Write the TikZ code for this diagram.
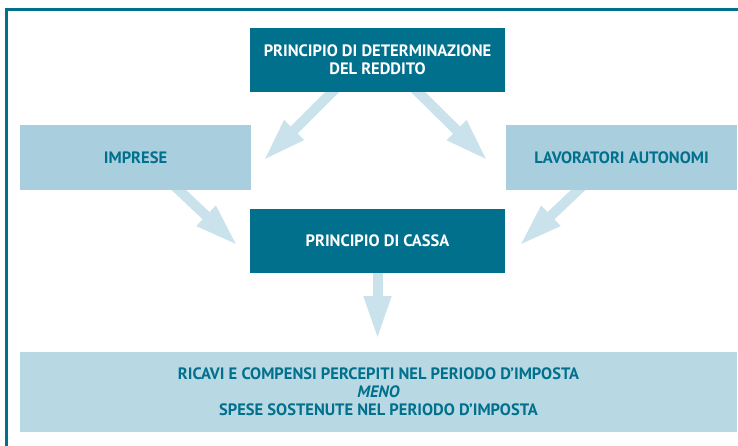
\documentclass[tikz,border=0pt]{standalone}
\usepackage{fontspec}
\setmainfont{PT Sans}
\usetikzlibrary{arrows.meta,backgrounds}

\definecolor{tealdark}{RGB}{0,112,140}
\definecolor{boxlight}{RGB}{169,207,222}
\definecolor{boxpale}{RGB}{184,217,228}
\definecolor{flowblue}{RGB}{201,226,235}

\tikzset{
  dark/.style={fill=tealdark,text=white,font=\bfseries\fontsize{16.5}{18}\selectfont,
    minimum width=255pt,minimum height=64pt,align=center,inner sep=0pt},
  light/.style={fill=boxlight,text=tealdark,font=\bfseries\fontsize{16.5}{18}\selectfont,
    minimum width=231pt,minimum height=65pt,align=center,inner sep=0pt},
  flow/.style={draw=flowblue,line width=10pt,-{Triangle[width=25pt,length=44pt]}},
}

\begin{document}
\begin{tikzpicture}[x=1pt,y=-1pt]

\useasboundingbox (0,0) rectangle (738,446);
\draw[tealdark,line width=2.5pt] (6.5,446) |- (738,9.5);

\node[dark](det) at (377.5,60) {PRINCIPIO DI DETERMINAZIONE\\DEL REDDITO};
\node[light](imp) at (135.5,157.5) {IMPRESE};
\node[light](lav) at (621.5,157.5) {LAVORATORI AUTONOMI};
\node[dark](cassa) at (377.5,241) {PRINCIPIO DI CASSA};
\node[light,fill=boxpale,minimum width=717pt,minimum height=80pt](result) at (378.5,392)
    {RICAVI E COMPENSI PERCEPITI NEL PERIODO D’IMPOSTA\\
     \textit{MENO}\\
     SPESE SOSTENUTE NEL PERIODO D’IMPOSTA};

\coordinate (tipimp) at (263,161);
\coordinate (tiplav) at (488,161);
\coordinate (tipcl) at (238,246);
\coordinate (tipcr) at (519,246);
\coordinate (tipres) at (377.5,340);

\begin{pgfonlayer}{background}
\draw[flow] ([shift={(-35.5,-10)}]det.south) -- (tipimp);
\draw[flow] ([shift={(30.5,-10)}]det.south) -- (tiplav);
\draw[flow] ([shift={(33,-10)}]imp.south) -- (tipcl);
\draw[flow] ([shift={(-33,-10)}]lav.south) -- (tipcr);
\draw[flow] (cassa) -- (tipres);
\end{pgfonlayer}

\end{tikzpicture}
\end{document}
